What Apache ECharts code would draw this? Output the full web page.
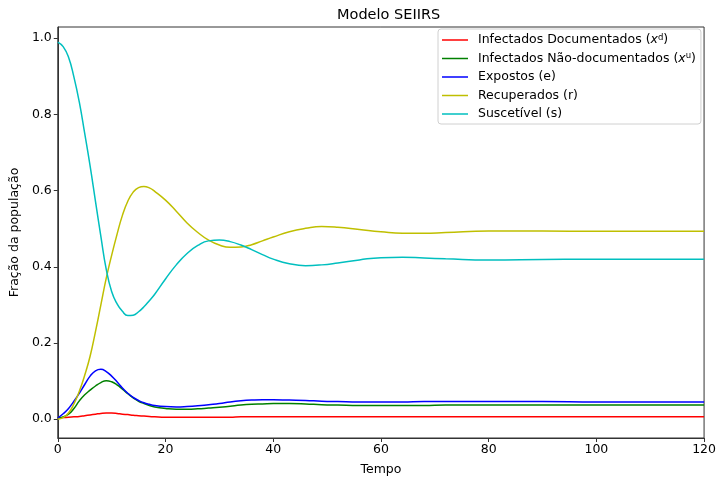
<!DOCTYPE html>
<html>
<head>
<meta charset="utf-8">
<script src="https://cdn.jsdelivr.net/npm/echarts@6/dist/echarts.min.js"></script>
<style>html,body{margin:0;padding:0;background:#fff}#c{width:719px;height:481px}</style>
</head>
<body>
<div id="c"></div>
<script>
var tempo = [0,1,2,3,4,5,6,7,8,9,10,11,12,13,14,15,16,17,18,20,22,24,26,28,30,32,34,36,38,40,43,46,49,52,56,60,64,68,72,80,90,100,110,120];
var infectadosDoc = [0.003,0.004,0.005,0.006,0.007,0.009,0.011,0.013,0.015,0.016,0.016,0.015,0.013,0.012,0.010,0.009,0.008,0.007,0.006,0.005,0.005,0.005,0.005,0.005,0.005,0.005,0.006,0.006,0.006,0.006,0.006,0.006,0.006,0.006,0.006,0.006,0.006,0.006,0.006,0.006,0.006,0.006,0.006,0.006];
var infectadosNaoDoc = [0.003,0.006,0.013,0.028,0.048,0.064,0.076,0.087,0.096,0.101,0.098,0.090,0.079,0.067,0.056,0.047,0.041,0.036,0.032,0.028,0.026,0.026,0.027,0.029,0.031,0.034,0.037,0.039,0.040,0.041,0.041,0.040,0.038,0.037,0.036,0.036,0.036,0.036,0.037,0.037,0.037,0.037,0.037,0.037];
var expostos = [0.003,0.014,0.028,0.047,0.068,0.091,0.113,0.127,0.131,0.125,0.113,0.098,0.082,0.068,0.057,0.049,0.043,0.039,0.036,0.033,0.032,0.033,0.035,0.038,0.041,0.045,0.048,0.050,0.051,0.051,0.050,0.049,0.047,0.046,0.045,0.045,0.045,0.046,0.046,0.046,0.046,0.045,0.045,0.045];
var recuperados = [0.000,0.004,0.016,0.040,0.073,0.115,0.165,0.230,0.300,0.370,0.430,0.485,0.535,0.572,0.596,0.608,0.611,0.607,0.598,0.575,0.546,0.515,0.490,0.470,0.457,0.451,0.452,0.458,0.468,0.478,0.492,0.501,0.506,0.504,0.498,0.492,0.488,0.488,0.490,0.494,0.494,0.493,0.493,0.493];
var suscetivel = [0.990,0.978,0.950,0.898,0.832,0.750,0.665,0.572,0.480,0.393,0.335,0.303,0.283,0.272,0.273,0.282,0.295,0.311,0.328,0.368,0.405,0.435,0.456,0.468,0.470,0.466,0.457,0.445,0.432,0.420,0.408,0.403,0.405,0.410,0.418,0.424,0.425,0.423,0.421,0.418,0.419,0.420,0.420,0.420];
var yTicks = [0.0,0.2,0.4,0.6,0.8,1.0];
var xTicks = [0,20,40,60,80,100,120];

var names = ['Infectados Documentados (xd)','Infectados Não-documentados (xu)','Expostos (e)','Recuperados (r)','Suscetível (s)'];
var legendRich = {
  'Infectados Documentados (xd)': 'Infectados Documentados ({i|x}{sup|d})',
  'Infectados Não-documentados (xu)': 'Infectados Não-documentados ({i|x}{sup|u})'
};
var colors = ['#ff0000','#008000','#0000ff','#bfbf00','#00bfbf'];
var values = [infectadosDoc, infectadosNaoDoc, expostos, recuperados, suscetivel];
function pairs(arr){ return tempo.map(function(t,i){ return [t, arr[i]]; }); }

var FONT = 'DejaVu Sans';
var chart = echarts.init(document.getElementById('c'), null, {renderer:'canvas'});
chart.setOption({
  animation:false,
  backgroundColor:'#fff',
  title:{text:'Modelo SEIIRS', left:332, top:3, textStyle:{fontFamily:FONT, fontSize:14.5, fontWeight:'normal', color:'#000'}},
  grid:{left:57, right:14, top:27, bottom:37, show:true, borderColor:'#333', borderWidth:1, backgroundColor:'transparent'},
  legend:{
    orient:'vertical', left:438, top:29, padding:[4,5,3,4], itemGap:4.5,
    icon:'rect', itemWidth:26, itemHeight:1.5,
    backgroundColor:'rgba(255,255,255,0.8)', borderColor:'#d0d0d0', borderWidth:1, borderRadius:3,
    data:names,
    formatter:function(n){ return legendRich[n] || n; },
    textStyle:{fontFamily:FONT, fontSize:12.5, color:'#000', padding:[0,0,0,5], lineHeight:14,
      rich:{ i:{fontFamily:FONT, fontSize:12.5, fontStyle:'italic', color:'#000'},
             sup:{fontFamily:FONT, fontSize:8.5, color:'#000', verticalAlign:'top', padding:[0,0,5,0]} } }
  },
  xAxis:{type:'value', min:0, max:120, interval:20, name:'Tempo', nameLocation:'middle', nameGap:25,
    nameTextStyle:{fontFamily:FONT, fontSize:12.5, color:'#000'},
    axisLine:{show:true, onZero:false, lineStyle:{color:'#333'}},
    axisTick:{show:true, inside:false, length:4, lineStyle:{color:'#333'}},
    axisLabel:{fontFamily:FONT, fontSize:12.5, color:'#000', margin:5},
    splitLine:{show:false}},
  yAxis:{type:'value', min:-0.0495, max:1.0295, name:'Fração da população', nameLocation:'middle', nameGap:32,
    nameTextStyle:{fontFamily:FONT, fontSize:12.5, color:'#000'},
    axisLine:{show:true, onZero:false, lineStyle:{color:'#333'}},
    axisTick:{show:true, inside:false, length:4, lineStyle:{color:'#333'}, customValues:yTicks},
    axisLabel:{fontFamily:FONT, fontSize:12.5, color:'#000', margin:6, customValues:yTicks, formatter:function(v){return v.toFixed(1);}},
    splitLine:{show:false}},
  series: names.map(function(n,k){
    return {name:n, type:'line', data:pairs(values[k]), smooth:true, showSymbol:false,
      lineStyle:{color:colors[k], width:1.5}, itemStyle:{color:colors[k]}, z:2+k};
  })
});
</script>
</body>
</html>
